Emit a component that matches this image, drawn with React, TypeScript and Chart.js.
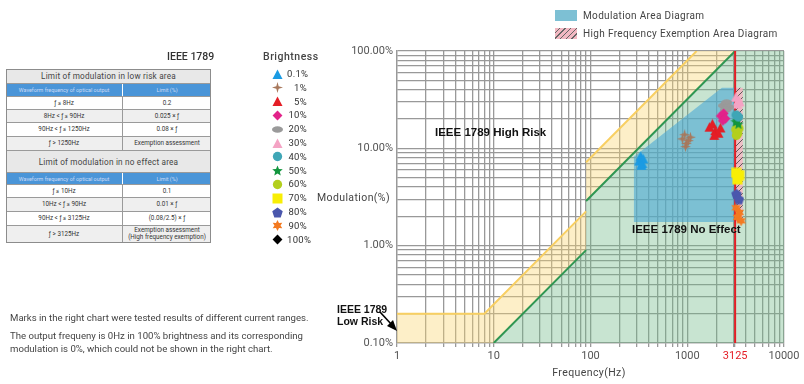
import React, { useEffect, useRef } from "react";
import { Chart, registerables } from "chart.js";

Chart.register(...registerables);

const W = 804;
const H = 384;

// ---------- axis labels ----------
const X_LABEL_TICKS = [1, 10, 100, 1000, 3125, 10000];
const Y_LABEL_TICKS = [0.1, 1, 10, 100];
const HF_LIMIT = 3125;

// ---------- IEEE 1789 limit curves (Hz / %) ----------
const LOW_RISK_A_F = [1, 8, 90];
const LOW_RISK_A_M = [0.2, 0.2, 2.25];
const LOW_RISK_B_F = [90, 1250];
const LOW_RISK_B_M = [7.2, 100];
const NO_EFFECT_A_F = [10, 90];
const NO_EFFECT_A_M = [0.1, 0.9];
const NO_EFFECT_B_F = [90, 3125];
const NO_EFFECT_B_M = [2.88, 100];

// ---------- areas ----------
const MOD_AREA_F = [281, 281, 2280, 3125, 3125];
const MOD_AREA_M = [1.75, 8.2, 42, 42, 1.75];
const HF_AREA_F = [3125, 3125, 3750, 3750];
const HF_AREA_M = [1.75, 42, 42, 1.75];
const AXIS_F = [1, 10000];
const AXIS_M = [0.1, 100];

// ---------- brightness series ----------
const BRIGHTNESS_LABELS = ["0.1%", "1%", "5%", "10%", "20%", "30%", "40%", "50%", "60%", "70%", "80%", "90%", "100%"];
const BRIGHTNESS_COLORS = ["#1b9be3", "#a8785c", "#e41e26", "#e2238a", "#9a9a9a", "#f4a3c4", "#3fa6b6", "#13963e", "#b3cf1d", "#f8ee05", "#4a57ad", "#f37a21", "#000000"];
const BRIGHTNESS_SHAPES = ["triangle", "star4", "triangle", "diamond", "ellipse", "triangle", "circle", "star5", "circle", "square", "pentagon", "star6", "diamond"];

const PTS_0_1 = [[318, 7.4], [330, 8.3], [342, 7.0], [350, 7.8], [336, 6.7]];
const PTS_1 = [[890, 12.5], [940, 13.8], [980, 11.2], [1030, 12.0], [1080, 13.0], [960, 10.4]];
const PTS_5 = [[1700, 16.5], [1820, 17.8], [1950, 15.2], [2100, 14.3], [1900, 13.6], [2200, 16.2]];
const PTS_10 = [[2220, 21.5], [2380, 22.8], [2330, 19.2], [2480, 20.2]];
const PTS_20 = [[2380, 27.5], [2550, 29.5], [2700, 26.5], [2500, 25.0]];
const PTS_30 = [[3180, 33.5], [3380, 31.0], [3250, 28.5], [3480, 30.0]];
const PTS_40 = [[3200, 22.0], [3380, 21.0]];
const PTS_50 = [[3180, 18.8], [3380, 17.8], [3280, 19.4]];
const PTS_60 = [[3180, 15.6], [3320, 14.2], [3220, 13.6], [3420, 16.0]];
const PTS_70 = [[3200, 5.6], [3450, 5.3], [3300, 4.8]];
const PTS_80 = [[3220, 3.4], [3420, 3.0]];
const PTS_90 = [[3200, 2.45], [3450, 2.2], [3300, 1.95], [3600, 1.8]];
const PTS_100: number[][] = [];
const SERIES_POINTS = [PTS_0_1, PTS_1, PTS_5, PTS_10, PTS_20, PTS_30, PTS_40, PTS_50, PTS_60, PTS_70, PTS_80, PTS_90, PTS_100];

// ---------- texts ----------
const LOW_RISK_TITLE = "Limit of modulation in low risk area";
const NO_EFFECT_TITLE = "Limit of modulation in no effect area";
const TABLE_HEAD = ["Waveform frequency of optical output", "Limit (%)"];
const LOW_RISK_ROWS = [
  ["ƒ ≤ 8Hz", "0.2"],
  ["8Hz < ƒ ≤ 90Hz", "0.025 × ƒ"],
  ["90Hz < ƒ ≤ 1250Hz", "0.08 × ƒ"],
  ["ƒ > 1250Hz", "Exemption assessment"],
];
const NO_EFFECT_ROWS = [
  ["ƒ ≤ 10Hz", "0.1"],
  ["10Hz < ƒ ≤ 90Hz", "0.01 × ƒ"],
  ["90Hz < ƒ ≤ 3125Hz", "(0.08/2.5) × ƒ"],
  ["ƒ > 3125Hz", "Exemption assessment\n(High frequency exemption)"],
];
const NOTE_LINES = [
  "Marks in the right chart were tested results of different current ranges.",
  "The output frequeny is 0Hz in 100% brightness and its corresponding",
  "modulation is 0%, which could not be shown in the right chart.",
];

function polyPath(g: CanvasRenderingContext2D, cx: number, cy: number, n: number, rOut: number, rIn: number | null) {
  const count = rIn === null ? n : n * 2;
  for (let i = 0; i < count; i++) {
    const r = rIn === null ? rOut : i % 2 === 0 ? rOut : rIn;
    const a = -Math.PI / 2 + (i * 2 * Math.PI) / count;
    const x = cx + r * Math.cos(a);
    const y = cy + r * Math.sin(a);
    if (i === 0) g.moveTo(x, y);
    else g.lineTo(x, y);
  }
  g.closePath();
}

function makeMarker(shape: string, color: string, s: number): HTMLCanvasElement {
  const c = document.createElement("canvas");
  c.width = s;
  c.height = s;
  const g = c.getContext("2d")!;
  g.fillStyle = color;
  const h = s / 2;
  g.beginPath();
  switch (shape) {
    case "triangle":
      g.moveTo(h, 0.5);
      g.lineTo(s - 0.5, s - 1);
      g.lineTo(0.5, s - 1);
      g.closePath();
      break;
    case "star4":
      polyPath(g, h, h, 4, h, h * 0.3);
      break;
    case "diamond":
      polyPath(g, h, h, 4, h * 0.9, null);
      break;
    case "ellipse":
      g.ellipse(h, h, h, h * 0.6, 0, 0, Math.PI * 2);
      break;
    case "circle":
      g.arc(h, h, h * 0.85, 0, Math.PI * 2);
      break;
    case "star5":
      polyPath(g, h, h + 0.5, 5, h, h * 0.45);
      break;
    case "square":
      g.rect(0.5, 0.5, s - 1, s - 1);
      break;
    case "pentagon":
      polyPath(g, h, h + 0.5, 5, h, null);
      break;
    case "star6":
      polyPath(g, h, h, 6, h, h * 0.55);
      break;
  }
  g.fill();
  return c;
}

function makeHatch(ctx: CanvasRenderingContext2D) {
  const c = document.createElement("canvas");
  const n = 6;
  c.width = n;
  c.height = n;
  const g = c.getContext("2d")!;
  g.fillStyle = "rgba(248,178,194,0.78)";
  g.fillRect(0, 0, n, n);
  g.strokeStyle = "rgba(70,70,70,0.85)";
  g.lineWidth = 1;
  g.beginPath();
  g.moveTo(0, n);
  g.lineTo(n, 0);
  g.moveTo(-1, 1);
  g.lineTo(1, -1);
  g.moveTo(n - 1, n + 1);
  g.lineTo(n + 1, n - 1);
  g.stroke();
  return ctx.createPattern(c, "repeat")!;
}

function decadeTicks(lo: number, hi: number) {
  const out: number[] = [];
  for (let k = lo; k < hi; k++) {
    for (let m = 1; m < 10; m++) out.push(m * Math.pow(10, k));
  }
  out.push(Math.pow(10, hi));
  return out;
}

const xy = (f: number[], m: number[]) => f.map((x, i) => ({ x, y: m[i] }));
const near = (v: number, list: number[]) => list.some((t) => Math.abs(v - t) / t < 1e-6);

const LEGEND_X = 277;
const LEGEND_Y0 = 74;
const LEGEND_DY = 13.8;

export default function App() {
  const ref = useRef<HTMLCanvasElement>(null);

  useEffect(() => {
    const canvas = ref.current!;
    const ctx = canvas.getContext("2d")!;
    const markers = BRIGHTNESS_SHAPES.map((s, i) => makeMarker(s, BRIGHTNESS_COLORS[i], 11));
    const legendMarkers = BRIGHTNESS_SHAPES.map((s, i) => makeMarker(s, BRIGHTNESS_COLORS[i], 11));
    const hatch = makeHatch(ctx);

    const yellowPoly = [
      ...xy(LOW_RISK_A_F, LOW_RISK_A_M),
      ...xy(LOW_RISK_B_F, LOW_RISK_B_M),
      { x: NO_EFFECT_B_F[1], y: AXIS_M[1] },
      ...xy(NO_EFFECT_B_F, NO_EFFECT_B_M).reverse(),
      ...xy(NO_EFFECT_A_F, NO_EFFECT_A_M).reverse(),
      { x: AXIS_F[0], y: AXIS_M[0] },
    ];
    const greenPoly = [
      ...xy(NO_EFFECT_A_F, NO_EFFECT_A_M),
      ...xy(NO_EFFECT_B_F, NO_EFFECT_B_M),
      { x: AXIS_F[1], y: AXIS_M[1] },
      { x: AXIS_F[1], y: AXIS_M[0] },
    ];

    const lineBase = { type: "line" as const, pointRadius: 0, tension: 0 };

    const datasets: any[] = [
      ...SERIES_POINTS.map((pts, i) => ({
        type: "scatter",
        label: BRIGHTNESS_LABELS[i],
        data: pts.map(([x, y]) => ({ x, y })),
        pointStyle: markers[i],
        pointRadius: 5,
        order: 0,
      })),
      { ...lineBase, label: "3125", data: [{ x: HF_LIMIT, y: AXIS_M[0] }, { x: HF_LIMIT, y: AXIS_M[1] }], borderColor: "#e41e26", borderWidth: 2, fill: false, order: 1 },
      { ...lineBase, label: "lowA", data: xy(LOW_RISK_A_F, LOW_RISK_A_M), borderColor: "#f8cf62", borderWidth: 2, fill: false, order: 2 },
      { ...lineBase, label: "lowB", data: xy(LOW_RISK_B_F, LOW_RISK_B_M), borderColor: "#f8cf62", borderWidth: 2, fill: false, order: 2 },
      { ...lineBase, label: "noA", data: xy(NO_EFFECT_A_F, NO_EFFECT_A_M), borderColor: "#2f9652", borderWidth: 2, fill: false, order: 2 },
      { ...lineBase, label: "noB", data: xy(NO_EFFECT_B_F, NO_EFFECT_B_M), borderColor: "#2f9652", borderWidth: 2, fill: false, order: 2 },
      { ...lineBase, label: "hf", data: xy(HF_AREA_F, HF_AREA_M), borderWidth: 0, borderColor: "rgba(0,0,0,0)", backgroundColor: hatch, fill: "shape", order: 3 },
      { ...lineBase, label: "mod", data: xy(MOD_AREA_F, MOD_AREA_M), borderWidth: 0, borderColor: "rgba(0,0,0,0)", backgroundColor: "rgba(75,168,214,0.6)", fill: "shape", order: 4 },
      { ...lineBase, label: "yellow", data: yellowPoly, borderWidth: 0, borderColor: "rgba(0,0,0,0)", backgroundColor: "rgba(250,214,110,0.38)", fill: "shape", order: 5 },
      { ...lineBase, label: "green", data: greenPoly, borderWidth: 0, borderColor: "rgba(0,0,0,0)", backgroundColor: "rgba(110,185,135,0.38)", fill: "shape", order: 6 },
    ];

    const legendPlugin = {
      id: "brightLegend",
      afterDraw(chart: any) {
        const c = chart.ctx as CanvasRenderingContext2D;
        legendMarkers.forEach((m, i) => {
          const y = LEGEND_Y0 + i * LEGEND_DY;
          c.drawImage(m, Math.round(LEGEND_X - m.width / 2), Math.round(y - m.height / 2));
        });
      },
    };

    const tickFont = { family: "Roboto, 'DejaVu Sans', sans-serif", size: 11 };
    const gridColor = "#999999";

    const chart = new Chart(canvas, {
      type: "scatter",
      data: { datasets },
      options: {
        responsive: false,
        animation: false,
        events: [],
        layout: { padding: { left: 330, right: 20, top: 51, bottom: 0 } },
        plugins: { legend: { display: false }, tooltip: { enabled: false } },
        scales: {
          x: {
            type: "logarithmic",
            min: AXIS_F[0],
            max: AXIS_F[1],
            afterBuildTicks: (scale: any) => {
              scale.ticks = [...decadeTicks(0, 4), HF_LIMIT].sort((a, b) => a - b).map((v) => ({ value: v }));
            },
            afterFit: (scale: any) => {
              scale.height = 41;
            },
            grid: { color: gridColor, lineWidth: 1.3, tickLength: 4 },
            border: { display: true, color: gridColor, width: 1.3 },
            ticks: {
              autoSkip: false,
              maxRotation: 0,
              padding: 3,
              font: tickFont,
              color: (c: any) => (c.tick && c.tick.value === HF_LIMIT ? "#e41e26" : "#555"),
              callback: (v: any) => (near(Number(v), X_LABEL_TICKS) ? String(Number(v)) : ""),
            },
          },
          y: {
            type: "logarithmic",
            min: AXIS_M[0],
            max: AXIS_M[1],
            afterBuildTicks: (scale: any) => {
              scale.ticks = decadeTicks(-1, 2).map((v) => ({ value: v }));
            },
            afterFit: (scale: any) => {
              scale.width = 67;
            },
            grid: { color: gridColor, lineWidth: 1.3, drawTicks: false },
            border: { display: true, color: gridColor, width: 1.3 },
            ticks: {
              autoSkip: false,
              padding: 4,
              font: tickFont,
              color: "#555",
              callback: (v: any) => (near(Number(v), Y_LABEL_TICKS) ? Number(v).toFixed(2) + "%" : ""),
            },
          },
        },
      } as any,
      plugins: [legendPlugin],
    });
    return () => chart.destroy();
  }, []);

  const abs = (x: number, y: number, extra: React.CSSProperties = {}): React.CSSProperties => ({
    position: "absolute",
    left: x,
    top: y,
    transform: "translateY(-50%)",
    whiteSpace: "nowrap",
    lineHeight: 1,
    ...extra,
  });

  const T_LEFT = 6;
  const T_WIDTH = 205;
  const T_SPLIT = 116;
  const ROW_Y = [69, 84, 97, 110, 123, 137, 151, 173, 185, 198, 212, 226, 243];
  const rows: { kind: string; texts: string[] }[] = [
    { kind: "title", texts: [LOW_RISK_TITLE] },
    { kind: "head", texts: TABLE_HEAD },
    ...LOW_RISK_ROWS.map((r) => ({ kind: "row", texts: r })),
    { kind: "title", texts: [NO_EFFECT_TITLE] },
    { kind: "head", texts: TABLE_HEAD },
    ...NO_EFFECT_ROWS.map((r) => ({ kind: "row", texts: r })),
  ];
  let rowCounter = 0;

  const ann: React.CSSProperties = { fontFamily: "'Liberation Sans', Arial, sans-serif", fontWeight: 700, color: "#111" };
  const din: React.CSSProperties = { fontFamily: "Roboto, sans-serif", color: "#444" };

  return (
    <div style={{ position: "absolute", left: 0, top: 0, width: W, height: H, background: "#fff", overflow: "hidden" }}>
      <canvas ref={ref} width={W} height={H} style={{ position: "absolute", left: 0, top: 0, width: W, height: H }} />

      {/* top legend */}
      <div style={{ position: "absolute", left: 555, top: 10, width: 22, height: 11, background: "rgb(125,192,212)" }} />
      <div style={abs(583, 16, { ...din, fontSize: 10, letterSpacing: 0.35 })}>Modulation Area Diagram</div>
      <div style={{ position: "absolute", left: 555, top: 28, width: 22, height: 11, background: "repeating-linear-gradient(135deg, #f2b8c2 0px, #f2b8c2 3px, #666 3px, #666 4px)" }} />
      <div style={abs(583, 34, { ...din, fontSize: 10, letterSpacing: 0.35 })}>High Frequency Exemption Area Diagram</div>

      {/* IEEE 1789 heading */}
      <div style={abs(167, 57, { ...din, fontSize: 10.5, fontWeight: 500, color: "#333" })}>IEEE 1789</div>
      <div style={abs(263, 57, { ...din, fontSize: 10.5, fontWeight: 500, letterSpacing: 0.5 })}>Brightness</div>

      {/* brightness legend labels */}
      {BRIGHTNESS_LABELS.map((l, i) => (
        <div key={l} style={abs(287, LEGEND_Y0 + i * LEGEND_DY, { ...din, fontSize: 9.5, width: 20, textAlign: "right", letterSpacing: 0.3, color: "#333" })}>
          {l}
        </div>
      ))}

      {/* tables */}
      <div style={{ position: "absolute", left: T_LEFT, top: ROW_Y[0], width: T_WIDTH, height: ROW_Y[ROW_Y.length - 1] - ROW_Y[0], boxSizing: "border-box", border: "1px solid #8c8c8c", zIndex: 2 }} />
      {rows.map((r, i) => {
        const y0 = ROW_Y[i];
        const h = ROW_Y[i + 1] - y0;
        const base: React.CSSProperties = {
          position: "absolute",
          left: T_LEFT,
          top: y0,
          width: T_WIDTH,
          height: h,
          boxSizing: "border-box",
          borderBottom: "1px solid #9a9a9a",
          fontFamily: "Roboto, sans-serif",
          display: "flex",
        };
        if (r.kind === "title") {
          rowCounter = 0;
          return (
            <div key={i} style={{ ...base, background: "#e8e8e8", alignItems: "center", justifyContent: "center", fontSize: 8.2, color: "#444", letterSpacing: 0.2 }}>
              {r.texts[0]}
            </div>
          );
        }
        if (r.kind === "head") {
          return (
            <div key={i} style={{ ...base, background: "#fff" }}>
              <div style={{ width: T_SPLIT, background: "#4a95d8", display: "flex", alignItems: "center", justifyContent: "center", fontSize: 5.4, color: "rgba(235,235,255,0.8)", borderRight: "1px solid #fff" }}>
                {r.texts[0]}
              </div>
              <div style={{ flex: 1, background: "#4a95d8", display: "flex", alignItems: "center", justifyContent: "center", fontSize: 5.4, color: "rgba(235,235,255,0.8)" }}>
                {r.texts[1]}
              </div>
            </div>
          );
        }
        const bg = rowCounter % 2 === 0 ? "#ffffff" : "#efefef";
        rowCounter++;
        const cell: React.CSSProperties = { display: "flex", alignItems: "center", justifyContent: "center", fontSize: 6.3, color: "#333", textAlign: "center", whiteSpace: "pre", lineHeight: 1.05 };
        return (
          <div key={i} style={{ ...base, background: bg }}>
            <div style={{ ...cell, width: T_SPLIT, borderRight: "1px solid #9a9a9a" }}>{r.texts[0]}</div>
            <div style={{ ...cell, flex: 1 }}>{r.texts[1]}</div>
          </div>
        );
      })}

      {/* notes */}
      <div style={abs(10, 318, { ...din, fontSize: 9.6, color: "#444" })}>{NOTE_LINES[0]}</div>
      <div style={abs(10, 336, { ...din, fontSize: 9.6, color: "#444" })}>{NOTE_LINES[1]}</div>
      <div style={abs(10, 349, { ...din, fontSize: 9.6, color: "#444" })}>{NOTE_LINES[2]}</div>

      {/* axis titles */}
      <div style={abs(300, 198, { ...din, fontSize: 10.5, width: 90, textAlign: "right", letterSpacing: 0.4 })}>Modulation(%)</div>
      <div style={abs(540, 373, { ...din, fontSize: 10.5, width: 98, textAlign: "center", letterSpacing: 0.4 })}>Frequency(Hz)</div>

      {/* chart annotations */}
      <div style={abs(435, 133, { ...ann, fontSize: 11.5 })}>IEEE 1789 High Risk</div>
      <div style={abs(632, 230, { ...ann, fontSize: 11.5 })}>IEEE 1789 No Effect</div>
      <div style={abs(337, 309, { ...ann, fontSize: 10.5 })}>IEEE 1789</div>
      <div style={abs(337, 321, { ...ann, fontSize: 10.5 })}>Low Risk</div>
      <svg style={{ position: "absolute", left: 0, top: 0 }} width={W} height={H}>
        <line x1={380} y1={312} x2={392} y2={325} stroke="#000" strokeWidth={1.6} />
        <polygon points="397,331 387,326 393,320" fill="#000" />
      </svg>
    </div>
  );
}
